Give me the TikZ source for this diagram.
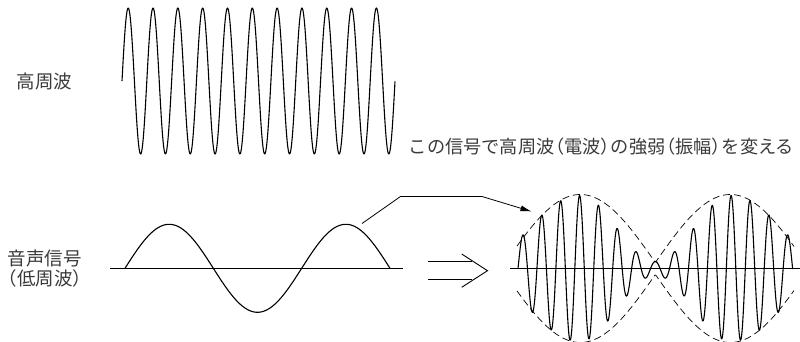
\documentclass[tikz,border=0pt]{standalone}
\usepackage{fontspec}
\setmainfont{Noto Sans CJK JP}
\usetikzlibrary{arrows.meta}
\definecolor{txt}{HTML}{3A3A3A}
\newcommand{\lp}{\hbox to 0.55em{\hss（}}
\newcommand{\rp}{\hbox to 0.55em{）\hss}}
\begin{document}
\begin{tikzpicture}[x=1pt,y=1pt,
  declare function={
    dd(\x)=abs(\x-655.35);
    camp(\x)=(dd(\x)<=76) ? (40-33*cos(2.36842*dd(\x))) : (73-40*(1-cos(1.57895*(dd(\x)-76))));
    env(\x)=6+68*abs(sin(1.2*dd(\x)));
  },
  wave/.style={line width=1.1pt, line join=round},
  axisline/.style={line width=1.1pt},
  envline/.style={line width=0.7pt, dash pattern=on 7pt off 4pt},
  lbl/.style={text=txt, inner sep=0pt, font=\fontsize{18.5}{19.5}\selectfont, align=center},
  toplbl/.style={text=txt, inner sep=0pt, font=\fontsize{18.2}{19}\selectfont},
  conn/.style={line width=0.8pt, -{Latex[length=11pt,width=6pt]}},
  dbl/.style={line width=0.9pt}
]
\useasboundingbox (0,0) rectangle (800,342);

% labels
\node[lbl] (hf) at (44.5,260) {高周波};
\node[lbl] (lf) at (45,73.5) {音声信号\\（低周波）};
\node[toplbl] (note) at (601.5,195) {この信号で高周波\lp 電波\rp の強弱\lp 振幅\rp を変える};

% high-frequency carrier
\draw[wave] plot[domain=122:395, samples=500] ({\x},{261+73*sin(14.50443*(\x-122))});

% audio signal
\coordinate (la) at (110,73.7);
\coordinate (lb) at (403,73.7);
\draw[axisline] (la) -- (lb);
\draw[wave] plot[domain=125:390, samples=200] ({\x},{73.7+44*sin(2.03770*(\x-125))});

% double arrow
\coordinate (d1a) at (428,80.3);
\coordinate (d1b) at (472,80.3);
\coordinate (d2a) at (428,62.7);
\coordinate (d2b) at (472,62.7);
\coordinate (h1) at (461.7,88);
\coordinate (ht) at (487.5,71.3);
\coordinate (h2) at (461.7,54.7);
\draw[dbl] (d1a) -- (d1b);
\draw[dbl] (d2a) -- (d2b);
\draw[dbl, line join=miter] (h1) -- (ht) -- (h2);

% modulated wave
\coordinate (ma) at (510,73.5);
\coordinate (mb) at (800,73.5);
\draw[axisline] (ma) -- (mb);
\draw[envline] plot[domain=517:794, samples=300] ({\x},{73.5+env(\x)});
\draw[envline] plot[domain=517:794, samples=300] ({\x},{73.5-env(\x)});
\draw[wave] plot[domain=518:792.7, samples=900] ({\x},{73.5+camp(\x)*sin(19.00739*(\x-518))});

% connector
\coordinate (cs) at (362,118.5);
\coordinate (cb1) at (400.5,145.5);
\coordinate (cb2) at (482,145.5);
\coordinate (ct) at (531.5,130.5);
\draw[conn] (cs) -- (cb1) -- (cb2) -- (ct);
\end{tikzpicture}
\end{document}
